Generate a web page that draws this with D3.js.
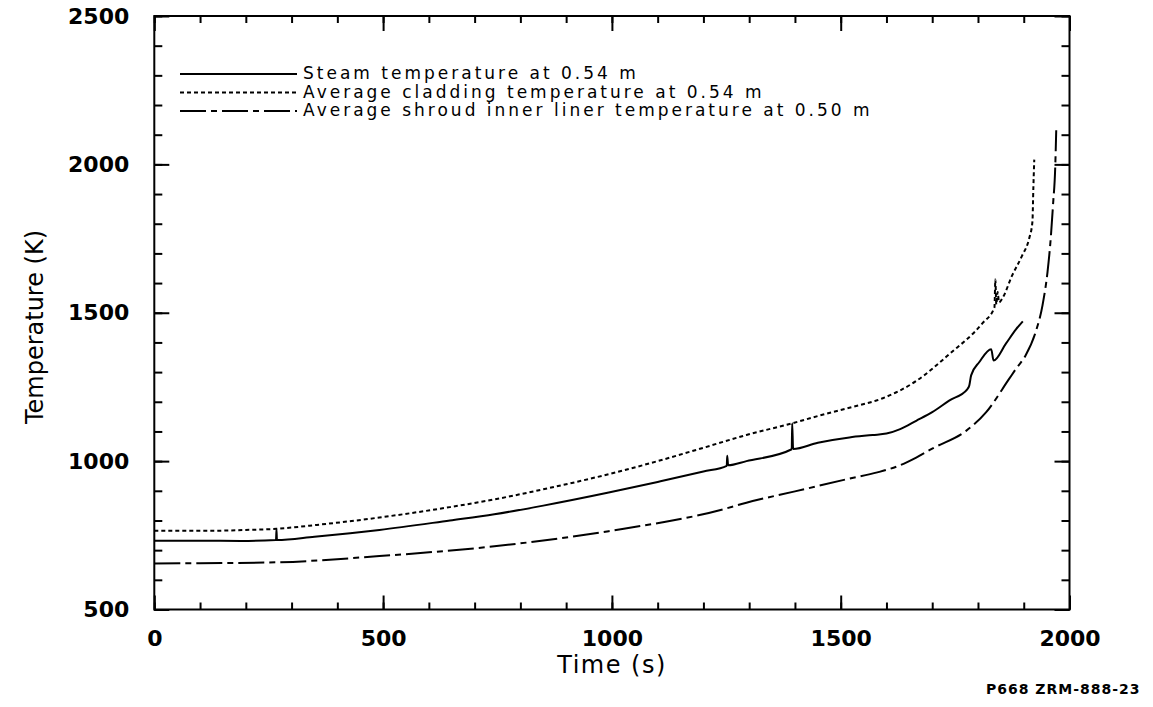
<!DOCTYPE html>
<html lang="en">
<head>
<meta charset="UTF-8">
<title>Temperature vs time</title>
<style>
  body { margin: 0; background: #fff; }
  svg { display: block; }
  .tick text { font-family: "DejaVu Sans", sans-serif; font-weight: bold; font-size: 22px; fill: #000; }
  .legend text { font-family: "DejaVu Sans", sans-serif; font-size: 17px; letter-spacing: 3px; fill: #000; }
  .title { font-family: "DejaVu Sans", sans-serif; font-size: 24px; fill: #000; }
</style>
</head>
<body>
<svg id="chart" width="1153" height="707"></svg>
<script src="https://cdn.jsdelivr.net/npm/d3@7"></script>
<script>
// series: [time (s), temperature (K)]
var steam = [
  [0, 732], [100, 732], [189, 731], [266, 734], [267, 770], [268, 734], [350, 745],
  [428, 757], [492, 768], [646, 800], [743, 821], [850, 850], [993, 894], [1100, 930],
  [1200, 965], [1251, 984], [1252, 1018], [1254, 986], [1294, 1000], [1393, 1040],
  [1394, 1128], [1396, 1041], [1450, 1062], [1519, 1080], [1570, 1088], [1600, 1093],
  [1630, 1108], [1665, 1136], [1700, 1165], [1737, 1204], [1777, 1243], [1781, 1255],
  [1785, 1289], [1803, 1334], [1829, 1377], [1834, 1339], [1861, 1396], [1883, 1444],
  [1898, 1471]
];
var cladding = [
  [0, 765], [100, 765], [200, 768], [267, 772], [355, 785], [492, 810], [646, 845],
  [743, 871], [850, 905], [993, 956], [1100, 1000], [1200, 1045], [1294, 1088],
  [1395, 1128], [1450, 1152], [1519, 1180], [1592, 1212], [1665, 1270], [1737, 1360],
  [1810, 1465], [1836, 1518], [1838, 1612], [1840, 1528], [1843, 1570], [1846, 1535],
  [1853, 1548], [1875, 1627], [1897, 1694], [1912, 1751], [1919, 1807], [1921, 1920],
  [1923, 2016]
];
var shroud = [
  [0, 655], [100, 656], [266, 659], [492, 680], [743, 713], [993, 764], [1244, 838],
  [1294, 860], [1400, 898], [1519, 941], [1580, 962], [1628, 985], [1665, 1012],
  [1701, 1043], [1774, 1102], [1818, 1165], [1868, 1277], [1883, 1311], [1904, 1356],
  [1926, 1435], [1941, 1525], [1952, 1638], [1959, 1751], [1964, 1864], [1969, 1999],
  [1971, 2115]
];
var legendLabels = [
  'Steam temperature at 0.54 m',
  'Average cladding temperature at 0.54 m',
  'Average shroud inner liner temperature at 0.50 m'
];
var xMajor = [0, 500, 1000, 1500, 2000];
var yMajor = [500, 1000, 1500, 2000, 2500];
var xMinor = d3.range(0, 2001, 100);
var yMinor = d3.range(500, 2501, 100);

var dashes = [null, '4,3', '26,5,6,5'];

var svg = d3.select('#chart');
// plot box in pixels (named so they don't clash with window.top)
var pl = 154.3, pr = 1069.5, pt = 16, pb = 609.5;

var x = d3.scaleLinear().domain([0, 2000]).range([pl, pr]);
var y = d3.scaleLinear().domain([500, 2500]).range([pb, pt]);

// ticks pointing into the plot
function ticks(axis, pos, values, size) {
  var g = svg.append('g')
    .attr('transform', pos)
    .call(axis.tickValues(values).tickSize(-size).tickFormat(''));
  g.select('.domain').remove();
  g.selectAll('line').attr('stroke', '#000').attr('stroke-width', 2);
}
ticks(d3.axisBottom(x), 'translate(0,' + pb + ')', xMinor, 7);
ticks(d3.axisBottom(x), 'translate(0,' + pb + ')', xMajor, 14);
ticks(d3.axisTop(x), 'translate(0,' + pt + ')', xMinor, 7);
ticks(d3.axisTop(x), 'translate(0,' + pt + ')', xMajor, 15);
ticks(d3.axisLeft(y), 'translate(' + pl + ',0)', yMinor, 8);
ticks(d3.axisLeft(y), 'translate(' + pl + ',0)', yMajor, 15);
ticks(d3.axisRight(y), 'translate(' + pr + ',0)', yMinor, 8);
ticks(d3.axisRight(y), 'translate(' + pr + ',0)', yMajor, 15);

svg.append('rect')
  .attr('x', pl).attr('y', pt)
  .attr('width', pr - pl).attr('height', pb - pt)
  .attr('fill', 'none').attr('stroke', '#000').attr('stroke-width', 2);

// tick labels
var xl = svg.append('g')
  .attr('transform', 'translate(0,' + pb + ')')
  .call(d3.axisBottom(x).tickValues(xMajor).tickSize(0).tickPadding(21).tickFormat(d3.format('d')));
xl.select('.domain').remove();

var yl = svg.append('g')
  .attr('transform', 'translate(' + pl + ',0)')
  .call(d3.axisLeft(y).tickValues(yMajor).tickSize(0).tickPadding(25).tickFormat(d3.format('d')));
yl.select('.domain').remove();

// curves
var line = d3.line().curve(d3.curveMonotoneX).x(d => x(d[0])).y(d => y(d[1]));
[steam, cladding, shroud].forEach(function (s, i) {
  svg.append('path')
    .datum(s)
    .attr('d', line)
    .attr('fill', 'none')
    .attr('stroke', '#000')
    .attr('stroke-width', 2)
    .attr('stroke-dasharray', dashes[i]);
});

// legend
var legend = svg.append('g').attr('class', 'legend');
legendLabels.forEach(function (t, i) {
  var ly = 74 + i * 18.5;
  legend.append('line')
    .attr('x1', 180).attr('x2', 297)
    .attr('y1', ly).attr('y2', ly)
    .attr('stroke', '#000').attr('stroke-width', 2)
    .attr('stroke-dasharray', dashes[i]);
  legend.append('text')
    .attr('x', 303).attr('y', ly + 5)
    .text(t);
});

// axis titles
svg.append('text')
  .attr('class', 'title')
  .attr('x', 612).attr('y', 673)
  .attr('text-anchor', 'middle')
  .style('letter-spacing', '1.5px')
  .text('Time (s)');

svg.append('text')
  .attr('class', 'title')
  .attr('transform', 'translate(43,327) rotate(-90)')
  .attr('text-anchor', 'middle')
  .text('Temperature (K)');

svg.append('text')
  .attr('x', 986).attr('y', 694)
  .style('font-family', '"DejaVu Sans", sans-serif')
  .style('font-weight', 'bold')
  .style('font-size', '14px')
  .style('letter-spacing', '1px')
  .text('P668 ZRM-888-23');
</script>
</body>
</html>
